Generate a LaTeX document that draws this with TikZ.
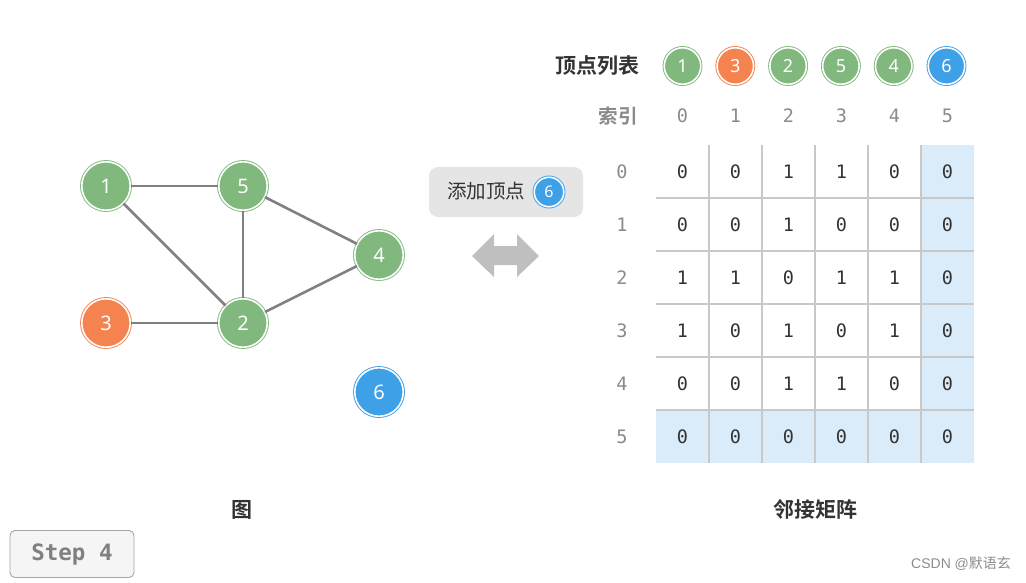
\documentclass[tikz,border=0pt]{standalone}
\usepackage{fontspec}
\setmainfont{Noto Sans}
\newfontfamily\cjk[BoldFont={Noto Sans CJK SC Bold}]{Noto Sans CJK SC}
\newfontfamily\mono{DejaVu Sans Mono}
\newfontfamily\wm{Liberation Sans}
\definecolor{vgreen}{HTML}{80B87D}
\definecolor{vorange}{HTML}{F5834F}
\definecolor{vblue}{HTML}{3EA0E7}
\definecolor{hlblue}{HTML}{DAEBF9}
\definecolor{gridc}{HTML}{C8C8C8}
\definecolor{edgec}{HTML}{808080}
\definecolor{txt}{HTML}{333333}
\definecolor{idx}{HTML}{8A8A8A}
\tikzset{
  vtx/.style={circle, inner sep=0pt, minimum size=48.5pt, fill=#1, draw=#1, double=white,
    double distance=1.6pt, line width=0.9pt, text=white, font=\fontsize{20}{20}\selectfont},
  lvtx/.style={vtx=#1, minimum size=36.5pt, font=\fontsize{18}{18}\selectfont},
  svtx/.style={vtx=#1, minimum size=29.5pt, font=\fontsize{16}{16}\selectfont},
  gedge/.style={draw=edgec, line width=2.6pt},
  cell/.style={font=\mono\fontsize{18.5}{18.5}\selectfont, text=txt},
  idxlab/.style={font=\mono\fontsize{18.5}{18.5}\selectfont, text=idx},
  title/.style={font=\cjk\bfseries\fontsize{21}{21}\selectfont, text=txt},
}
\begin{document}
\begin{tikzpicture}[x=1pt,y=-1pt]
\useasboundingbox (0,0) rectangle (1026,582);
% graph
\node[vtx=vgreen] (g1) at (106,186) {1};
\node[vtx=vgreen] (g5) at (243,186) {5};
\node[vtx=vgreen] (g4) at (379,255) {4};
\node[vtx=vorange] (g3) at (106,323) {3};
\node[vtx=vgreen] (g2) at (243,323) {2};
\node[vtx=vblue] (g6) at (379,392) {6};
\draw[gedge] (g1) -- (g5);
\draw[gedge] (g1) -- (g2);
\draw[gedge] (g5) -- (g2);
\draw[gedge] (g5) -- (g4);
\draw[gedge] (g2) -- (g4);
\draw[gedge] (g3) -- (g2);
\node[title] (tg) at (242,510) {图};
% add vertex label
\node[draw=none, fill=black!10, rounded corners=9pt, minimum width=154pt, minimum height=50pt] (lab) at (506,192) {};
\node[font=\cjk\fontsize{19.5}{19.5}\selectfont, text=txt] (labt) at (486,191) {添加顶点};
\node[svtx=vblue] (lab6) at (549,192) {6};
% double arrow
\fill[black!25] (472,256) -- (494,234) -- (494,246) -- (517,246) -- (517,234) -- (539,256)
  -- (517,277) -- (517,265) -- (494,265) -- (494,277) -- cycle;
% vertex list
\node[title] (vl) at (597,66) {顶点列表};
\node[lvtx=vgreen] (l0) at (682.5,66) {1};
\node[lvtx=vorange] (l1) at (735.3,66) {3};
\node[lvtx=vgreen] (l2) at (788.1,66) {2};
\node[lvtx=vgreen] (l3) at (840.9,66) {5};
\node[lvtx=vgreen] (l4) at (893.7,66) {4};
\node[lvtx=vblue] (l5) at (946.5,66) {6};
\node[font=\cjk\bfseries\fontsize{19.5}{19.5}\selectfont, text=idx] (il) at (618,116) {索引};
\foreach \i in {0,...,5}{
  \node[idxlab] (ci\i) at (682.5+\i*53,116) {\i};
  \node[idxlab] (ri\i) at (622,171.5+\i*53) {\i};
}
% matrix highlight
\fill[hlblue] (921,145) rectangle (974,463);
\fill[hlblue] (656,410) rectangle (974,463);
% grid
\foreach \i in {1,...,5}{
  \draw[gridc, line width=1.2pt] (656+\i*53,145) -- (656+\i*53,463);
  \draw[gridc, line width=1.2pt] (656,145+\i*53) -- (974,145+\i*53);
}
\foreach \r/\row in {0/{0,0,1,1,0,0},1/{0,0,1,0,0,0},2/{1,1,0,1,1,0},3/{1,0,1,0,1,0},4/{0,0,1,1,0,0},5/{0,0,0,0,0,0}}{
  \foreach \v [count=\c from 0] in \row {
    \node[cell] (m\r\c) at (682.5+\c*53,171.5+\r*53) {\v};
  }
}
\node[title] (tm) at (815,510) {邻接矩阵};
% step box
\node[draw=black!35, fill=black!4, rounded corners=5pt, line width=0.9pt, minimum width=124pt, minimum height=47pt,
  font=\mono\bfseries\fontsize{22.5}{22.5}\selectfont, text=black!50] (step) at (72,554) {Step 4};
% watermark
\node[anchor=west, font=\fontsize{14}{14}\selectfont, text=black!45, inner sep=0pt] (wm) at (911,564) {\wm CSDN @\cjk 默语玄};
\end{tikzpicture}
\end{document}
